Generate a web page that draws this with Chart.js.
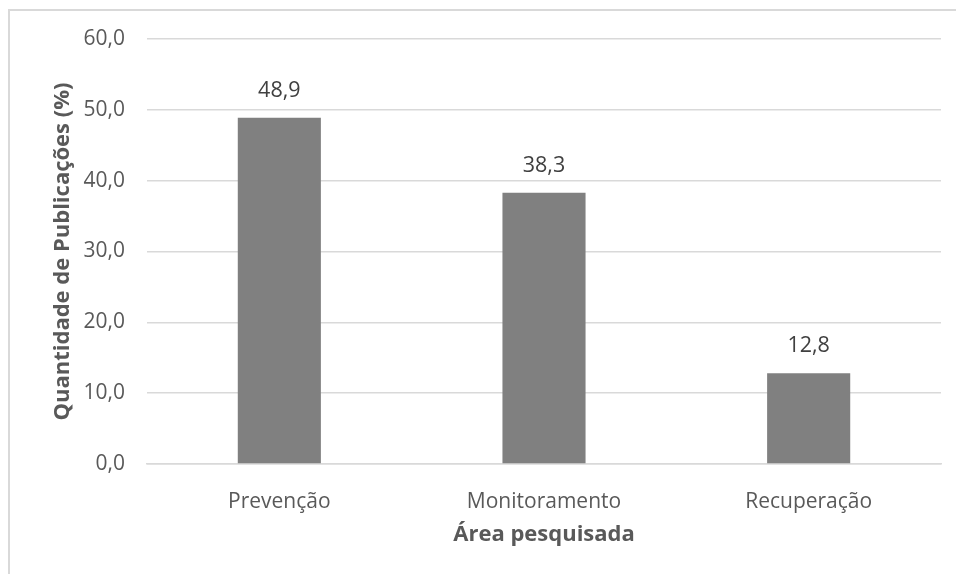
<!DOCTYPE html>
<html>
<head>
<meta charset="utf-8">
<script src="https://cdn.jsdelivr.net/npm/chart.js@4"></script>
<style>
    html, body { margin: 0; padding: 0; background: #fff; }
    #frame {
        position: absolute; left: 8px; top: 9px; width: 960px; height: 580px;
        border-left: 2px solid #d9d9d9; border-top: 2px solid #d9d9d9;
    }
    #wrap { position: absolute; left: 0; top: 0; width: 956px; height: 574px; }
</style>
</head>
<body>
<div id="frame"></div>
<div id="wrap"><canvas id="barChart" width="956" height="574"></canvas></div>
<script>
// Chart data
const categories = ['Prevenção', 'Monitoramento', 'Recuperação'];
const percentages = [48.9, 38.3, 12.8];
const yTicks = [0, 10, 20, 30, 40, 50, 60];

// Format a number with a comma as decimal separator
function formatValue(v) {
    return Number(v).toFixed(1).replace('.', ',');
}

// Draw the value above each bar
const valueLabels = {
    id: 'valueLabels',
    afterDatasetsDraw(chart) {
        const ctx = chart.ctx;
        const meta = chart.getDatasetMeta(0);
        ctx.save();
        ctx.font = '21.5px "Open Sans"';
        ctx.fillStyle = '#404040';
        ctx.textAlign = 'center';
        ctx.textBaseline = 'middle';
        meta.data.forEach((bar, i) => {
            ctx.fillText(formatValue(percentages[i]), bar.x, bar.y - 27);
        });
        ctx.restore();
    }
};

const ctx = document.getElementById('barChart').getContext('2d');
new Chart(ctx, {
    type: 'bar',
    data: {
        labels: categories,
        datasets: [{
            data: percentages,
            backgroundColor: '#808080',
            borderWidth: 0,
            categoryPercentage: 1,
            barPercentage: 0.314
        }]
    },
    options: {
        responsive: false,
        animation: false,
        layout: { padding: { top: 39, right: 15, left: 0, bottom: 0 } },
        plugins: {
            legend: { display: false },
            tooltip: { enabled: false }
        },
        scales: {
            x: {
                grid: { display: false },
                border: { display: true, color: '#d9d9d9', width: 1.5 },
                ticks: {
                    color: '#595959',
                    padding: 17,
                    font: { family: 'Open Sans', size: 21 }
                },
                title: {
                    display: true,
                    text: 'Área pesquisada',
                    color: '#595959',
                    padding: { top: 0, bottom: 26 },
                    font: { family: 'Open Sans', size: 22, weight: 'bold' }
                },
                afterFit(scale) { scale.height = 110; }
            },
            y: {
                min: 0,
                max: 60,
                afterBuildTicks(scale) { scale.ticks = yTicks.map(v => ({ value: v })); },
                grid: { color: '#d9d9d9', lineWidth: 1.5, drawTicks: false },
                border: { display: false },
                ticks: {
                    color: '#595959',
                    padding: 22,
                    font: { family: 'Open Sans', size: 21 },
                    callback: v => formatValue(v)
                },
                title: {
                    display: true,
                    text: 'Quantidade de Publicações (%)',
                    color: '#595959',
                    padding: { top: 50, bottom: 0 },
                    font: { family: 'Open Sans', size: 22, weight: 'bold' }
                },
                afterFit(scale) { scale.width = 147; }
            }
        }
    },
    plugins: [valueLabels]
});
</script>
</body>
</html>
